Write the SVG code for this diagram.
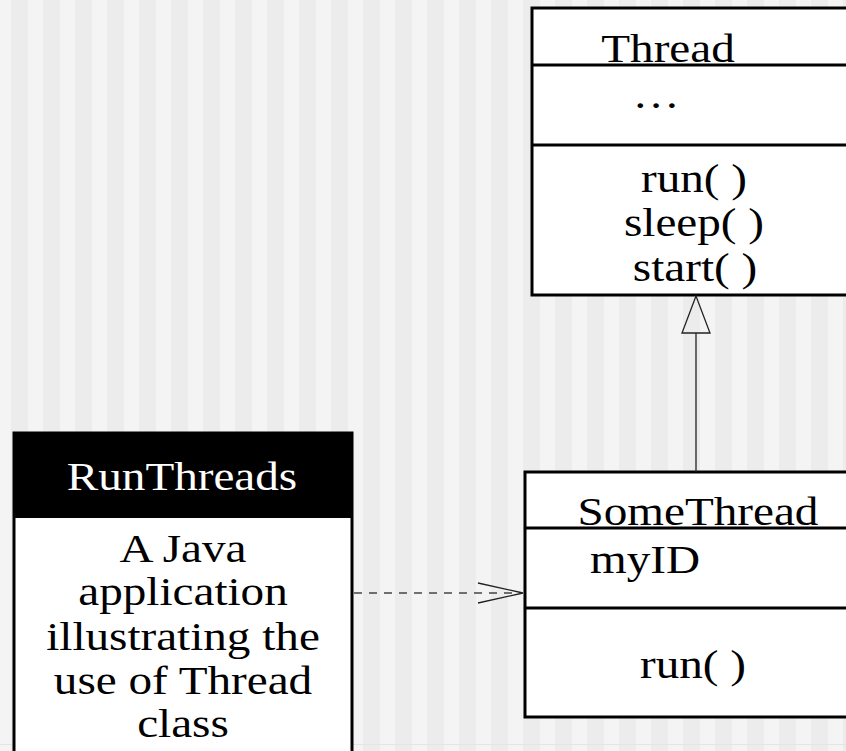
<svg xmlns="http://www.w3.org/2000/svg" width="846" height="751" viewBox="0 0 846 751">
<defs>
<pattern id="stripes" x="0" y="0" width="32" height="751" patternUnits="userSpaceOnUse">
<rect x="0" y="0" width="32" height="751" fill="#f4f4f4"/>
<rect x="11" y="0" width="17" height="751" fill="#ececec"/>
</pattern>
<style>
.box{fill:#ffffff;stroke:#000000;stroke-width:3}
.div{stroke:#000000;stroke-width:3}
.t{font-family:"Liberation Serif","Times New Roman",serif;font-size:41px;fill:#000000;text-anchor:middle}
.tl{font-family:"Liberation Serif","Times New Roman",serif;font-size:41px;fill:#000000}
.w{fill:#ffffff}
</style>
</defs>
<rect x="0" y="0" width="846" height="751" fill="url(#stripes)"/>
<rect x="0" y="744" width="846" height="1" fill="#e4e4e4"/>

<g id="thread">
<rect class="box" x="532" y="8" width="330" height="287"/>
<line class="div" x1="532" y1="65" x2="846" y2="65"/>
<line class="div" x1="532" y1="145" x2="846" y2="145"/>
<text class="t" transform="translate(668,62) scale(1.15,1)">Thread</text>
<text class="t" transform="translate(656,108) scale(1.15,1)">…</text>
<text class="t" transform="translate(694,192) scale(1.15,1)">run( )</text>
<text class="t" transform="translate(694,236) scale(1.15,1)">sleep( )</text>
<text class="t" transform="translate(695,281) scale(1.15,1)">start( )</text>
</g>

<g id="somethread">
<rect class="box" x="525" y="472" width="337" height="245"/>
<line class="div" x1="525" y1="528" x2="846" y2="528"/>
<line class="div" x1="525" y1="608" x2="846" y2="608"/>
<text class="t" transform="translate(698,525) scale(1.15,1)">SomeThread</text>
<text class="tl" transform="translate(590,573) scale(1.15,1)">myID</text>
<text class="t" transform="translate(693,678) scale(1.15,1)">run( )</text>
</g>

<g id="runthreads">
<rect x="14" y="433" width="338" height="330" fill="#ffffff" stroke="#000000" stroke-width="3"/>
<rect x="14" y="433" width="338" height="85" fill="#000000"/>
<text class="t w" transform="translate(182,490) scale(1.15,1)">RunThreads</text>
<text class="t" transform="translate(183,562) scale(1.15,1)">A Java</text>
<text class="t" transform="translate(183,605) scale(1.15,1)">application</text>
<text class="t" transform="translate(183,650) scale(1.15,1)">illustrating the</text>
<text class="t" transform="translate(183,694) scale(1.15,1)">use of Thread</text>
<text class="t" transform="translate(183,737) scale(1.15,1)">class</text>
</g>

<g id="connectors">
<line x1="696" y1="472" x2="696" y2="333" stroke="#222222" stroke-width="1.3"/>
<polygon points="696,296 682,333 710,333" fill="none" stroke="#222222" stroke-width="1.3"/>
<line x1="354" y1="593" x2="522" y2="593" stroke="#444444" stroke-width="1.3" stroke-dasharray="8,7"/>
<polyline points="478,583 523,593 478,603" fill="none" stroke="#222222" stroke-width="1.3"/>
</g>
</svg>
